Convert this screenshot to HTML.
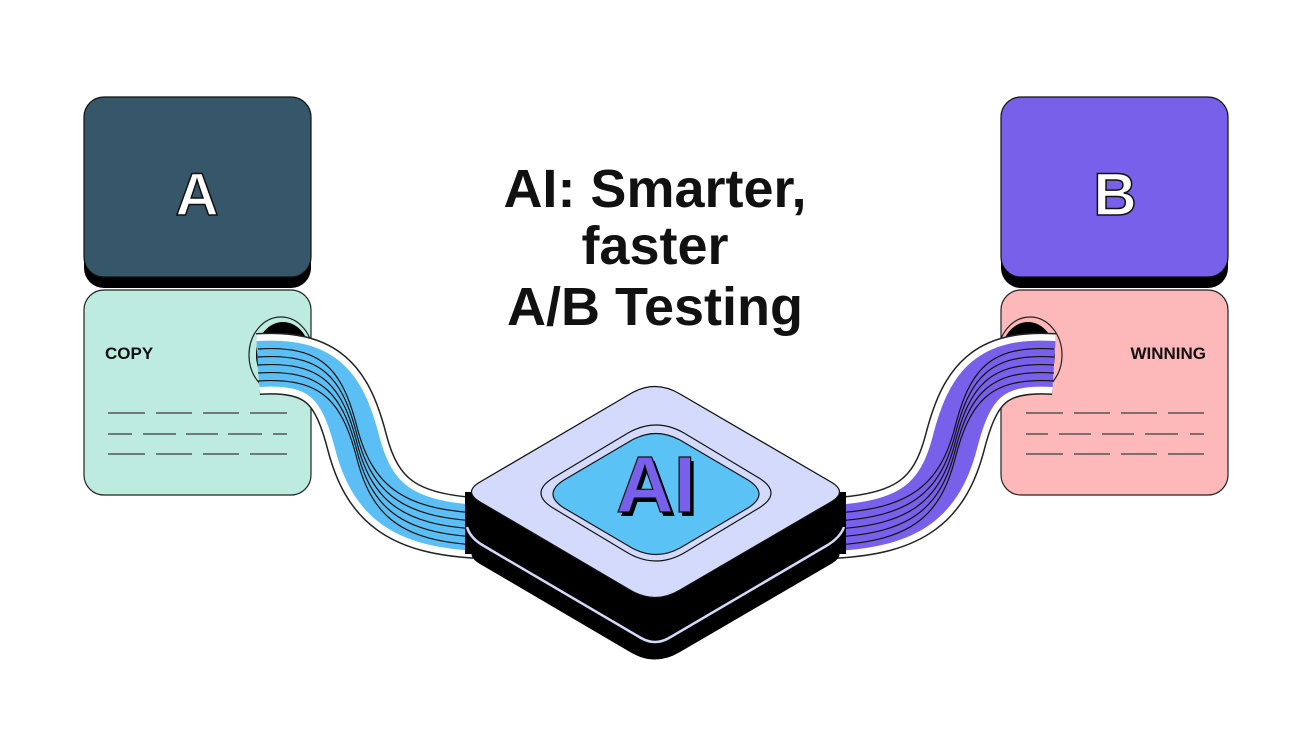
<!DOCTYPE html>
<html><head><meta charset="utf-8"><style>
html,body{margin:0;padding:0;background:#fff;}
svg{display:block}
</style></head><body>
<svg width="1312" height="736" viewBox="0 0 1312 736" xmlns="http://www.w3.org/2000/svg">
<defs>
<path id="lc" d="M258,364 C322,360 342,384 357,442 C372,500 402,524 478,528"/>
<path id="rc" d="M1054,364 C990,360 970,384 955,442 C940,500 910,524 834,528"/>
<path id="dia" d="M480,482 L630,394 Q655,379 680,394 L831,482 Q848,492 831,502 L680,590 Q655,605 630,590 L480,502 Q463,492 480,482 Z"/>
</defs>
<!-- Card A -->
<rect x="84" y="105" width="227" height="183" rx="20" fill="#000"/>
<rect x="84" y="97" width="227" height="180" rx="20" fill="#365669" stroke="#111" stroke-width="1.2"/>
<text x="197" y="215" text-anchor="middle" font-family="Liberation Sans, sans-serif" font-weight="bold" font-size="60" fill="#fff" stroke="#111" stroke-width="1.5">A</text>
<rect x="84" y="290" width="227" height="205" rx="20" fill="#bdebdf" stroke="#222" stroke-width="1.2"/>
<text x="105" y="359" font-family="Liberation Sans, sans-serif" font-weight="bold" font-size="17" fill="#111">COPY</text>
<g stroke="#555" stroke-width="1.5">
<path d="M108,413 H145 M156,413 H192 M203,413 H239 M250,413 H287"/>
<path d="M108,434 H132 M143,434 H176 M186,434 H218 M228,434 H262 M273,434 H287"/>
<path d="M108,454 H145 M156,454 H192 M203,454 H239 M250,454 H287"/>
</g>
<!-- Card B -->
<rect x="1001" y="105" width="227" height="183" rx="20" fill="#000"/>
<rect x="1001" y="97" width="227" height="180" rx="20" fill="#7860ea" stroke="#111" stroke-width="1.2"/>
<text x="1115" y="215" text-anchor="middle" font-family="Liberation Sans, sans-serif" font-weight="bold" font-size="60" fill="#fff" stroke="#111" stroke-width="1.5">B</text>
<rect x="1001" y="290" width="227" height="205" rx="20" fill="#fdb9b9" stroke="#222" stroke-width="1.2"/>
<text x="1206" y="359" text-anchor="end" font-family="Liberation Sans, sans-serif" font-weight="bold" font-size="17" fill="#111">WINNING</text>
<g stroke="#555" stroke-width="1.5">
<path d="M1026,413 H1063 M1074,413 H1110 M1121,413 H1157 M1168,413 H1204"/>
<path d="M1026,434 H1048 M1059,434 H1091 M1102,434 H1134 M1145,434 H1178 M1190,434 H1204"/>
<path d="M1026,454 H1063 M1074,454 H1110 M1121,454 H1157 M1168,454 H1204"/>
</g>
<!-- holes -->
<ellipse cx="281" cy="355" rx="32" ry="38" fill="#bdebdf" stroke="#222" stroke-width="1.2"/>
<ellipse cx="283" cy="355" rx="27" ry="33" fill="#000"/>
<ellipse cx="1030" cy="355" rx="32" ry="38" fill="#fdb9b9" stroke="#222" stroke-width="1.2"/>
<ellipse cx="1028" cy="355" rx="27" ry="33" fill="#000"/>
<!-- ribbons -->
<g fill="none">
<use href="#lc" stroke="#222" stroke-width="62"/>
<use href="#lc" stroke="#fff" stroke-width="59"/>
<use href="#lc" stroke="#5bbff5" stroke-width="46"/>
<g stroke="#111" stroke-width="1.2">
<use href="#lc" transform="translate(0,-15)"/><use href="#lc" transform="translate(0,-7)"/>
<use href="#lc" transform="translate(0,1)"/><use href="#lc" transform="translate(0,9)"/>
<use href="#lc" transform="translate(0,17)"/>
</g>
<use href="#rc" stroke="#222" stroke-width="62"/>
<use href="#rc" stroke="#fff" stroke-width="59"/>
<use href="#rc" stroke="#7860ea" stroke-width="46"/>
<g stroke="#111" stroke-width="1.2">
<use href="#rc" transform="translate(0,-15)"/><use href="#rc" transform="translate(0,-7)"/>
<use href="#rc" transform="translate(0,1)"/><use href="#rc" transform="translate(0,9)"/>
<use href="#rc" transform="translate(0,17)"/>
</g>
</g>
<!-- Title -->
<g font-family="Liberation Sans, sans-serif" font-weight="bold" font-size="54" fill="#111" text-anchor="middle">
<text x="655" y="207">AI: Smarter,</text>
<text x="655" y="264">faster</text>
<text x="655" y="325">A/B Testing</text>
</g>
<!-- Platform -->
<use href="#dia" fill="#000" transform="translate(0,62)"/>
<rect x="465" y="492" width="381" height="62" fill="#000"/>
<path d="M467,527 Q470,538 484,546 L641,638 Q655,646 669,638 L826,546 Q840,538 844,527" fill="none" stroke="#d4dafc" stroke-width="2.5"/>
<use href="#dia" fill="#d4dafc" stroke="#111" stroke-width="1.3"/>
<path d="M553,478 L628,433 Q656,417 684,433 L759,478 Q783,493 759,508 L684,553 Q656,569 628,553 L553,508 Q529,493 553,478 Z" fill="none" stroke="#111" stroke-width="1.2"/>
<path d="M564,480 L632,440 Q656,427 680,440 L748,480 Q770,494 748,508 L680,548 Q656,561 632,548 L564,508 Q542,494 564,480 Z" fill="#5bc2f6" stroke="#111" stroke-width="1.2"/>
<text x="659" y="516" text-anchor="middle" font-family="Liberation Sans, sans-serif" font-weight="bold" font-size="80" fill="#000">AI</text>
<text x="656" y="512" text-anchor="middle" font-family="Liberation Sans, sans-serif" font-weight="bold" font-size="80" fill="#7860ea" stroke="#111" stroke-width="1.2">AI</text>
</svg>
</body></html>
